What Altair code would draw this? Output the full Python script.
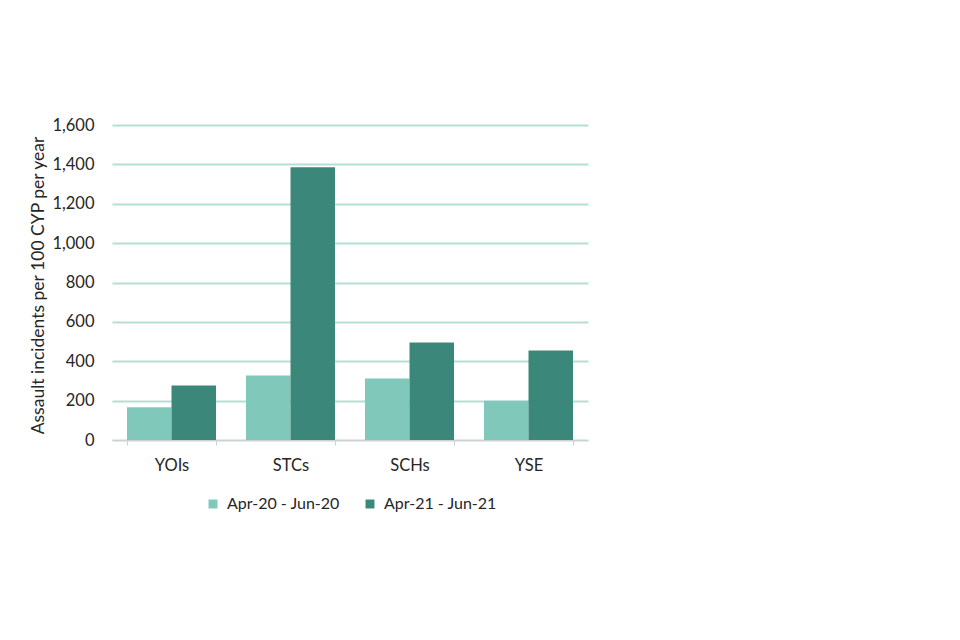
import altair as alt
import pandas as pd

categories = ["YOIs", "STCs", "SCHs", "YSE"]
series_names = ["Apr-20 - Jun-20", "Apr-21 - Jun-21"]
values_2020 = [166, 328, 312, 200]
values_2021 = [277, 1385, 495, 455]
colors = ["#80C8BA", "#3B887B"]

rows = []
for c, a, b in zip(categories, values_2020, values_2021):
    rows.append({"cat": c, "period": series_names[0], "value": a})
    rows.append({"cat": c, "period": series_names[1], "value": b})
df = pd.DataFrame(rows)

font = "Lato"

chart = alt.Chart(df).mark_bar().encode(
    x=alt.X("cat:N", sort=categories, title=None,
            scale=alt.Scale(paddingInner=0.252, paddingOuter=0.126),
            axis=alt.Axis(labelAngle=0, labelFontSize=16.5, labelFont=font, labelColor="#262626",
                          domainColor="#d0d0d0", tickColor="#d0d0d0", tickSize=5,
                          tickBand="extent", labelPadding=12, grid=False)),
    xOffset=alt.XOffset("period:N", sort=series_names),
    y=alt.Y("value:Q", title="Assault incidents per 100 CYP per year",
            scale=alt.Scale(domain=[0, 1600], nice=False),
            axis=alt.Axis(values=list(range(0, 1601, 200)), format=",d", labelFontSize=16.5,
                          labelFont=font, labelColor="#262626", labelPadding=18,
                          domain=False, ticks=False, gridColor="#B5DED6", gridWidth=2,
                          titleFont=font, titleFontSize=17.5, titleFontWeight="normal",
                          titleColor="#262626", titleAngle=-90, titleX=-74, titleY=160,
                          titleAlign="center", titleBaseline="middle")),
    color=alt.Color("period:N", sort=series_names,
                    scale=alt.Scale(domain=series_names, range=colors),
                    legend=alt.Legend(title=None, orient="none", direction="horizontal",
                                      legendX=93, legendY=371, symbolType="square",
                                      symbolSize=80, symbolStrokeWidth=0,
                                      labelFontSize=16, labelFont=font, labelColor="#262626",
                                      columnPadding=22, labelOffset=6)),
).properties(
    width=476, height=315,
    autosize=alt.AutoSizeParams(type="none"),
    padding={"left": 104, "top": 117, "right": 350, "bottom": 180},
).configure_view(stroke=None)

chart.save("out.html", embed_options={"renderer": "svg", "actions": False})
